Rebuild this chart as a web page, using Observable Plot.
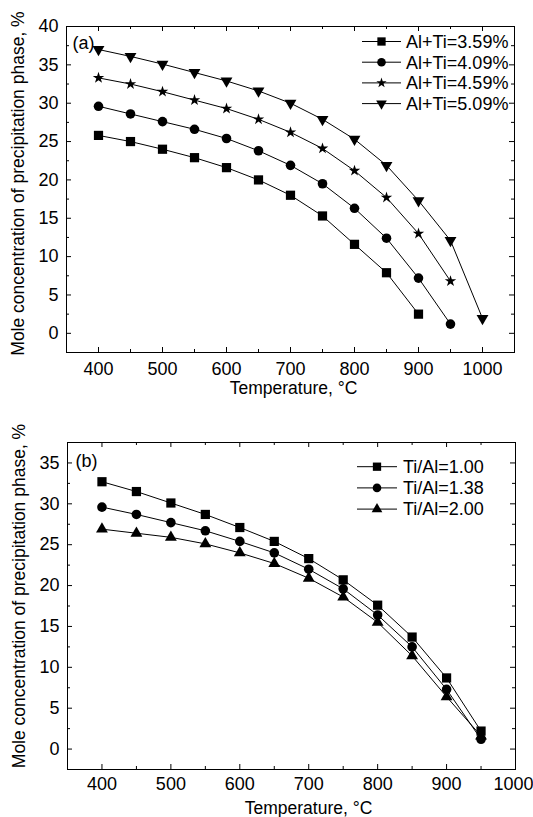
<!DOCTYPE html>
<html>
<head>
<meta charset="utf-8">
<script src="https://cdn.jsdelivr.net/npm/d3@7"></script>
<script src="https://cdn.jsdelivr.net/npm/@observablehq/plot@0.6"></script>
<style>
  body { margin: 0; background: #fff; }
  #c svg { display: block; }
</style>
</head>
<body>
<div id="c"></div>
<script>
// ---------- data ----------
const temps = [400, 450, 500, 550, 600, 650, 700, 750, 800, 850, 900, 950, 1000];

// Panel (a)
const seriesA = ["Al+Ti=3.59%", "Al+Ti=4.09%", "Al+Ti=4.59%", "Al+Ti=5.09%"];
const a359 = [25.8, 25.0, 24.0, 22.9, 21.6, 20.0, 18.0, 15.3, 11.6, 7.9, 2.5];
const a409 = [29.6, 28.6, 27.6, 26.6, 25.4, 23.8, 21.9, 19.5, 16.3, 12.4, 7.2, 1.2];
const a459 = [33.3, 32.5, 31.5, 30.4, 29.3, 27.9, 26.2, 24.1, 21.2, 17.7, 13.0, 6.8];
const a509 = [37.0, 36.1, 35.1, 34.0, 32.9, 31.6, 30.0, 27.9, 25.3, 21.9, 17.3, 12.1, 1.95];
const symbolsA = ["square", "circle", "star", "triangle"];
const rotateA = [0, 0, 0, 180];

// Panel (b)
const seriesB = ["Ti/Al=1.00", "Ti/Al=1.38", "Ti/Al=2.00"];
const b100 = [32.7, 31.5, 30.1, 28.7, 27.1, 25.4, 23.3, 20.7, 17.6, 13.7, 8.7, 2.2];
const b138 = [29.6, 28.7, 27.7, 26.7, 25.4, 24.0, 22.0, 19.6, 16.4, 12.5, 7.3, 1.2];
const b200 = [26.9, 26.4, 25.9, 25.1, 24.0, 22.7, 20.9, 18.6, 15.5, 11.4, 6.4, 1.6];
const symbolsB = ["square", "circle", "triangle"];
const rotateB = [0, 0, 0];

// axis ticks
const xMajorA = [400, 500, 600, 700, 800, 900, 1000];
const xMinorA = [450, 550, 650, 750, 850, 950];
const yMajorA = [0, 5, 10, 15, 20, 25, 30, 35, 40];
const yMinorA = [2.5, 7.5, 12.5, 17.5, 22.5, 27.5, 32.5, 37.5];
const xMajorB = [400, 500, 600, 700, 800, 900, 1000];
const xMinorB = [450, 550, 650, 750, 850, 950];
const yMajorB = [0, 5, 10, 15, 20, 25, 30, 35];
const yMinorB = [2.5, 7.5, 12.5, 17.5, 22.5, 27.5, 32.5];

const xTitle = "Temperature, °C";
const yTitle = "Mole concentration of precipitation phase, %";

// ---------- helpers ----------
const symbolR = {square: 5.2, circle: 4.8, star: 3.6, triangle: 4.4};
const d3Sym = {square: d3.symbolSquare, circle: d3.symbolCircle, star: d3.symbolStar, triangle: d3.symbolTriangle};

function toRows(names, arrays) {
  const rows = [];
  names.forEach((s, i) => arrays[i].forEach((v, j) => rows.push({s, t: temps[j], v})));
  return rows;
}

function panel(cfg) {
  const rows = toRows(cfg.names, cfg.values);
  const fh = cfg.height - cfg.mt - cfg.mb;
  const fw = 533 - cfg.ml - cfg.mr;
  const MAJ = 5, MIN = 3;
  const tk = {stroke: "black", strokeWidth: 1};
  const marks = [
    Plot.ruleX(cfg.xMajor, {x: d => d, insetTop: fh - MAJ, ...tk}),
    Plot.ruleX(cfg.xMinor, {x: d => d, insetTop: fh - MIN, ...tk}),
    Plot.ruleX(cfg.xMajor, {x: d => d, insetBottom: fh - MAJ, ...tk}),
    Plot.ruleX(cfg.xMinor, {x: d => d, insetBottom: fh - MIN, ...tk}),
    Plot.ruleY(cfg.yMajor, {y: d => d, insetRight: fw - MAJ, ...tk}),
    Plot.ruleY(cfg.yMinor, {y: d => d, insetRight: fw - MIN, ...tk}),
    Plot.ruleY(cfg.yMajor, {y: d => d, insetLeft: fw - MAJ, ...tk}),
    Plot.ruleY(cfg.yMinor, {y: d => d, insetLeft: fw - MIN, ...tk}),
    Plot.line(rows, {x: "t", y: "v", z: "s", stroke: "black", strokeWidth: 1}),
  ];
  cfg.names.forEach((s, i) => {
    marks.push(Plot.dot(rows.filter(d => d.s === s), {
      x: "t", y: "v", symbol: () => cfg.symbols[i], r: symbolR[cfg.symbols[i]],
      rotate: cfg.rotate[i], fill: "black", stroke: null
    }));
  });
  const inner = cfg.xMajor.filter(d => d < cfg.xDomain[1]);
  const edge = cfg.xMajor.filter(d => d >= cfg.xDomain[1]);
  marks.push(
    Plot.frame({stroke: "black", strokeWidth: 1}),
    Plot.axisX(inner, {anchor: "bottom", tickSize: 0, tickPadding: cfg.xPad, label: null, tickFormat: d => String(d)}),
    Plot.axisY(cfg.yMajor, {anchor: "left", tickSize: 0, tickPadding: 8, label: null, tickFormat: d => String(d)})
  );
  if (edge.length) marks.push(Plot.axisX(edge, {anchor: "bottom", tickSize: 0, tickPadding: cfg.xPad, label: null, dx: -2, tickFormat: d => String(d)}));
  marks.push(
    Plot.text([xTitle], {frameAnchor: "bottom", dx: cfg.xTitleDx, dy: cfg.xTitleDy, lineAnchor: "middle", fontSize: 17.5}),
    Plot.text([yTitle], {frameAnchor: "left", rotate: -90, dx: -48, dy: cfg.yTitleDy, lineAnchor: "middle", textAnchor: "middle", fontSize: 17.5}),
    Plot.text([cfg.tag], {frameAnchor: "top-left", dx: cfg.tagDx, dy: cfg.tagDy, textAnchor: "start", lineAnchor: "middle", fontSize: 18})
  );
  const svg = Plot.plot({
    width: 533,
    height: cfg.height,
    marginTop: cfg.mt, marginBottom: cfg.mb, marginLeft: cfg.ml, marginRight: cfg.mr,
    x: {domain: cfg.xDomain},
    y: {domain: cfg.yDomain},
    style: {fontFamily: "'Liberation Sans', Arial, sans-serif", fontSize: "18px", color: "black", background: "white"},
    marks
  });
  // legend
  const g = d3.select(svg).append("g").attr("fill", "black").attr("stroke", "black");
  cfg.names.forEach((s, i) => {
    const y = cfg.leg.y0 + i * cfg.leg.step;
    g.append("line").attr("x1", cfg.leg.x0).attr("x2", cfg.leg.x1).attr("y1", y).attr("y2", y).attr("stroke-width", 1);
    const r = symbolR[cfg.symbols[i]] * 0.9;
    g.append("path")
      .attr("d", d3.symbol(d3Sym[cfg.symbols[i]], Math.PI * r * r)())
      .attr("stroke", "none")
      .attr("transform", `translate(${(cfg.leg.x0 + cfg.leg.x1) / 2},${y}) rotate(${cfg.rotate[i]})`);
    g.append("text").attr("x", cfg.leg.tx).attr("y", y).attr("dy", "0.35em")
      .attr("text-anchor", "start")
      .attr("stroke", "none").attr("font-size", 18).text(s);
  });
  return svg;
}

const c = document.getElementById("c");
c.appendChild(panel({
  names: seriesA, values: [a359, a409, a459, a509], symbols: symbolsA, rotate: rotateA,
  xMajor: xMajorA, xMinor: xMinorA, yMajor: yMajorA, yMinor: yMinorA,
  xDomain: [350, 1050], yDomain: [-2.5, 40],
  height: 400, mt: 26, mb: 48, ml: 66, mr: 19,
  xPad: 10, xTitleDx: 3, xTitleDy: 36, yTitleDy: -6,
  tag: "(a)", tagDx: 6, tagDy: 17,
  leg: {x0: 362, x1: 401, tx: 406, y0: 41.5, step: 20.7}
}));
c.appendChild(panel({
  names: seriesB, values: [b100, b138, b200], symbols: symbolsB, rotate: rotateB,
  xMajor: xMajorB, xMinor: xMinorB, yMajor: yMajorB, yMinor: yMinorB,
  xDomain: [350, 1000], yDomain: [-2.5, 37.5],
  height: 417, mt: 42, mb: 48, ml: 67, mr: 18,
  xPad: 8, xTitleDx: 17, xTitleDy: 39, yTitleDy: -10,
  tag: "(b)", tagDx: 8, tagDy: 19,
  leg: {x0: 357, x1: 397, tx: 403, y0: 466.7 - 400, step: 21.2}
}));
</script>
</body>
</html>
